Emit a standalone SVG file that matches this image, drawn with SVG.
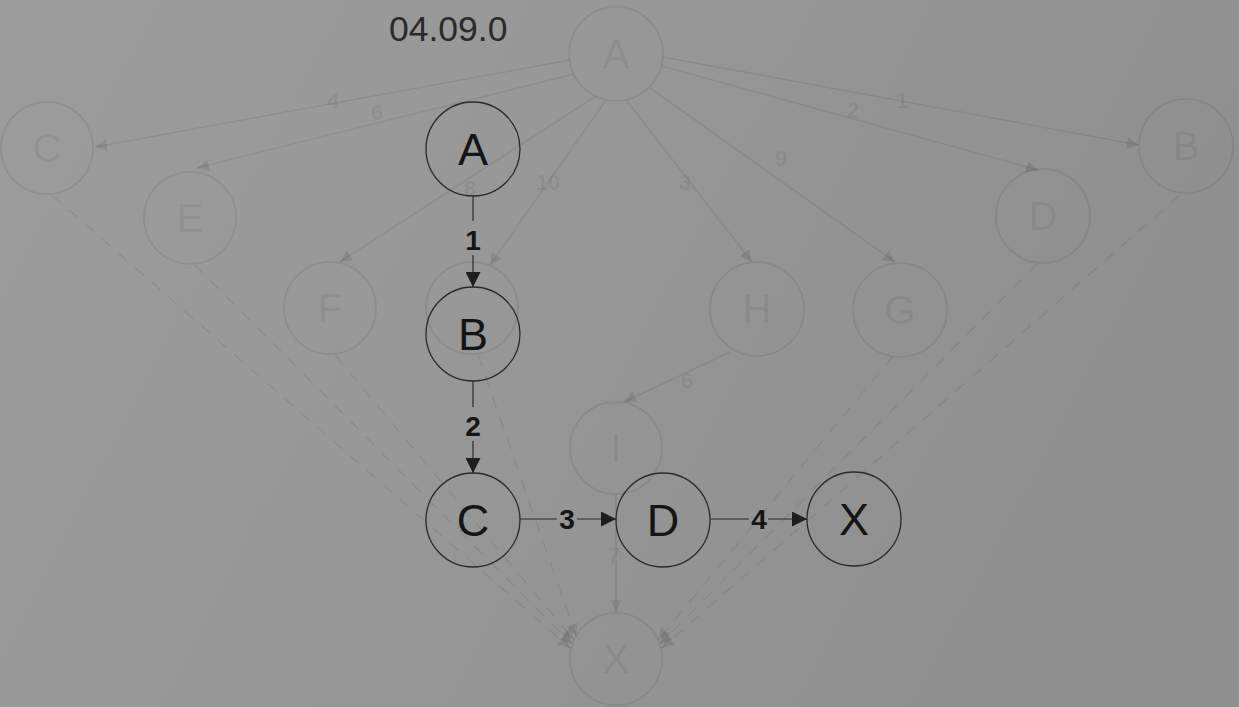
<svg xmlns="http://www.w3.org/2000/svg" width="1239" height="707" viewBox="0 0 1239 707">
<defs>
<linearGradient id="bg" x1="0" y1="0" x2="1" y2="0.3">
<stop offset="0" stop-color="#9c9c9c"/>
<stop offset="0.5" stop-color="#979797"/>
<stop offset="1" stop-color="#8f8f8f"/>
</linearGradient>
<marker id="arr" viewBox="0 0 10 10" refX="10" refY="5" markerWidth="15" markerHeight="15" markerUnits="userSpaceOnUse" orient="auto">
<path d="M0,0 L10,5 L0,10 z" fill="#1e1e1e"/>
</marker>
<marker id="garr" viewBox="0 0 10 10" refX="10" refY="5" markerWidth="12" markerHeight="12" markerUnits="userSpaceOnUse" orient="auto">
<path d="M0,0 L10,5 L0,10 z" fill="#000" fill-opacity="0.09"/>
</marker>
<style>
.node{fill:none;stroke:#2a2a2a;stroke-width:1.3}
.nt{font-family:"Liberation Sans",Arial,sans-serif;font-size:45px;fill:#151515;text-anchor:middle}
.edge{stroke:#2a2a2a;stroke-width:1.2;fill:none}
.el{font-family:"Liberation Sans",Arial,sans-serif;font-size:28px;font-weight:bold;fill:#151515;text-anchor:middle}
.gn{fill:none;stroke:#000;stroke-opacity:0.075;stroke-width:1.8}
.gt{font-family:"Liberation Sans",Arial,sans-serif;font-size:40px;fill:#000;fill-opacity:0.075;text-anchor:middle}
.ge{stroke:#000;stroke-opacity:0.075;stroke-width:1.6;fill:none}
.gd{stroke:#000;stroke-opacity:0.07;stroke-width:1.5;fill:none;stroke-dasharray:12 10}
.gl{font-family:"Liberation Sans",Arial,sans-serif;font-size:22px;font-weight:bold;fill:#000;fill-opacity:0.075;text-anchor:middle}
</style>
</defs>
<rect x="0" y="0" width="1239" height="707" fill="url(#bg)"/>

<g id="background-graph">
<g id="ghost-connectors">
<line class="ge" x1="570" y1="60" x2="95" y2="147" marker-end="url(#garr)"/>
<line class="ge" x1="574" y1="74" x2="197" y2="168" marker-end="url(#garr)"/>
<line class="ge" x1="596" y1="96" x2="340" y2="262" marker-end="url(#garr)"/>
<line class="ge" x1="606" y1="100" x2="490" y2="265" marker-end="url(#garr)"/>
<line class="ge" x1="626" y1="100" x2="752" y2="262" marker-end="url(#garr)"/>
<line class="ge" x1="650" y1="88" x2="895" y2="262" marker-end="url(#garr)"/>
<line class="ge" x1="662" y1="66" x2="1038" y2="170" marker-end="url(#garr)"/>
<line class="ge" x1="663" y1="57" x2="1139" y2="145" marker-end="url(#garr)"/>
<line class="ge" x1="730" y1="352" x2="624" y2="402" marker-end="url(#garr)"/>
<line class="ge" x1="616" y1="494" x2="616" y2="612" marker-end="url(#garr)"/>
<line class="gd" x1="52" y1="195" x2="570" y2="648" marker-end="url(#garr)"/>
<line class="gd" x1="195" y1="265" x2="572" y2="644" marker-end="url(#garr)"/>
<line class="gd" x1="335" y1="355" x2="574" y2="640" marker-end="url(#garr)"/>
<line class="gd" x1="478" y1="355" x2="576" y2="636" marker-end="url(#garr)"/>
<line class="gd" x1="1180" y1="195" x2="662" y2="648" marker-end="url(#garr)"/>
<line class="gd" x1="1037" y1="264" x2="660" y2="644" marker-end="url(#garr)"/>
<line class="gd" x1="893" y1="356" x2="658" y2="640" marker-end="url(#garr)"/>
<text class="gl" x="333" y="108">4</text>
<text class="gl" x="377" y="120">6</text>
<text class="gl" x="470" y="196">8</text>
<text class="gl" x="548" y="190">10</text>
<text class="gl" x="685" y="190">3</text>
<text class="gl" x="781" y="166">9</text>
<text class="gl" x="853" y="118">2</text>
<text class="gl" x="902" y="108">1</text>
<text class="gl" x="687" y="388">6</text>
<text class="gl" x="614" y="563">7</text>
</g>
<g id="ghost-A"><circle class="gn" cx="616" cy="54" r="47"/><text class="gt" x="616" y="68">A</text></g>
<g id="ghost-C"><circle class="gn" cx="47" cy="148" r="46"/><text class="gt" x="47" y="162">C</text></g>
<g id="ghost-E"><circle class="gn" cx="190" cy="218" r="46"/><text class="gt" x="190" y="232">E</text></g>
<g id="ghost-F"><circle class="gn" cx="330" cy="308" r="46"/><text class="gt" x="330" y="322">F</text></g>
<g id="ghost-hidden"><circle class="gn" cx="472" cy="308" r="46"/></g>
<g id="ghost-H"><circle class="gn" cx="757" cy="309" r="47"/><text class="gt" x="757" y="323">H</text></g>
<g id="ghost-G"><circle class="gn" cx="900" cy="310" r="47"/><text class="gt" x="900" y="324">G</text></g>
<g id="ghost-D"><circle class="gn" cx="1043" cy="216" r="47"/><text class="gt" x="1043" y="230">D</text></g>
<g id="ghost-B"><circle class="gn" cx="1186" cy="146" r="47"/><text class="gt" x="1186" y="160">B</text></g>
<g id="ghost-I"><circle class="gn" cx="616" cy="448" r="46"/><text class="gt" x="616" y="462">I</text></g>
<g id="ghost-X"><circle class="gn" cx="616" cy="659" r="46"/><text class="gt" x="616" y="673">X</text></g>
</g>

<text x="389" y="41" font-family="Liberation Sans, Arial, sans-serif" font-size="35.5" fill="#2b2b2b">04.09.0</text>

<g id="connectors">
<line class="edge" x1="473" y1="196" x2="473" y2="221"/>
<line class="edge" x1="473" y1="255" x2="473" y2="287" marker-end="url(#arr)"/>
<text class="el" x="473" y="250">1</text>
<line class="edge" x1="473" y1="381" x2="473" y2="407"/>
<line class="edge" x1="473" y1="441" x2="473" y2="473" marker-end="url(#arr)"/>
<text class="el" x="473" y="436">2</text>
<line class="edge" x1="520" y1="519" x2="557" y2="519"/>
<line class="edge" x1="577" y1="519" x2="616" y2="519" marker-end="url(#arr)"/>
<text class="el" x="567" y="529">3</text>
<line class="edge" x1="711" y1="519" x2="749" y2="519"/>
<line class="edge" x1="768" y1="519" x2="807" y2="519" marker-end="url(#arr)"/>
<text class="el" x="759" y="529">4</text>
</g>

<g id="node-A"><circle class="node" cx="473" cy="149" r="47"/><text class="nt" x="473" y="165">A</text></g>
<g id="node-B"><circle class="node" cx="473" cy="334" r="47"/><text class="nt" x="473" y="350">B</text></g>
<g id="node-C"><circle class="node" cx="473" cy="520" r="47"/><text class="nt" x="473" y="536">C</text></g>
<g id="node-D"><circle class="node" cx="663" cy="520" r="47"/><text class="nt" x="663" y="536">D</text></g>
<g id="node-X"><circle class="node" cx="854" cy="519" r="47"/><text class="nt" x="854" y="535">X</text></g>
</svg>
